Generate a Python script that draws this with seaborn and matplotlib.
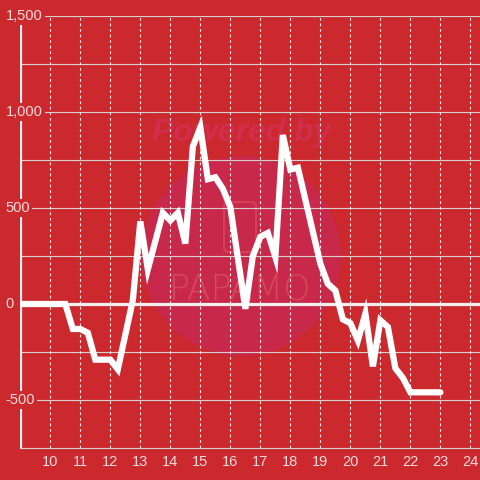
import matplotlib
matplotlib.use('Agg')
import numpy as np
import pandas as pd
import seaborn as sns
import matplotlib.pyplot as plt
from matplotlib.patches import Circle, FancyBboxPatch

# data (hour of day -> value)
hours = [9.0, 10.5, 10.75, 11.0, 11.25, 11.5, 12.0, 12.25, 12.75, 13.0,
         13.25, 13.75, 14.0, 14.25, 14.5, 14.75, 15.0, 15.25, 15.5, 15.75,
         16.0, 16.5, 16.75, 17.0, 17.25, 17.5, 17.75, 18.0, 18.25, 19.0,
         19.25, 19.5, 19.75, 20.0, 20.25, 20.5, 20.75, 21.0, 21.25, 21.5,
         21.75, 22.0, 23.0]
values = [0, 0, -130, -130, -150, -290, -290, -340, 20, 430,
          180, 475, 435, 475, 315, 820, 920, 650, 660, 600,
          505, -25, 250, 350, 370, 245, 880, 700, 710, 210,
          105, 70, -80, -100, -190, -50, -325, -85, -120, -335,
          -385, -460, -460]
x_ticks = list(range(10, 25))
y_ticks = [-500, 0, 500, 1000, 1500]
y_grid = [-500, -250, 250, 500, 750, 1000, 1250, 1500]

bg = '#cc292e'
label_col = '#f4dcdc'

sns.set_style('ticks')
plt.rcParams['font.family'] = ['Liberation Sans', 'DejaVu Sans']

df = pd.DataFrame({'hour': hours, 'value': values})

fig = plt.figure(figsize=(4.8, 4.8), dpi=100, facecolor=bg)
ax = fig.add_axes([20.3 / 480, 32 / 480, 459.7 / 480, 432 / 480])
ax.set_facecolor(bg)
ax.set_axisbelow('line')

# faint watermark
ax.add_patch(Circle((241 / 480, 1 - 256 / 480), 100 / 480, transform=fig.transFigure,
                    facecolor='#c8284a', edgecolor='none', zorder=0.8))
ax.add_patch(FancyBboxPatch((224 / 480, 1 - 252 / 480), 32 / 480, 50 / 480,
                            boxstyle='round,pad=0,rounding_size=0.01', transform=fig.transFigure,
                            facecolor='none', edgecolor='#d4405a', lw=1.5, zorder=0.9))
ax.text(242 / 480, 1 - 133 / 480, 'Powered by', transform=fig.transFigure,
        ha='center', va='center', fontsize=23, fontweight='bold', fontstyle='italic',
        color='#d02e4c', zorder=0.9)
ax.text(240 / 480, 1 - 289 / 480, 'PAPAMO', transform=fig.transFigure,
        ha='center', va='center', fontsize=25, fontweight='light',
        color='#d6485e', zorder=0.9, family='DejaVu Sans')

# grid, zero line and left axis line
ax.hlines(y_grid, 9, 24.32, color='#d6d0d0', lw=0.8, zorder=1.1)
ax.axhline(0, color='#f4f0f0', lw=2.3, zorder=1.2)
ax.axvline(9, color='#f4f0f0', lw=2.3, zorder=1.2)

sns.lineplot(data=df, x='hour', y='value', color='white', lw=4.5, ax=ax,
             zorder=3, solid_joinstyle='miter')

ax.set_xlim(9, 24.32)
ax.set_ylim(-750, 1500)
ax.set_xticks(x_ticks)
ax.set_yticks(y_ticks)
ax.set_yticklabels([])
ax.xaxis.grid(True, color='#f0e8e8', lw=0.8, ls=(0, (2.5, 2.5)))
ax.yaxis.grid(False)
ax.set_xlabel('')
ax.set_ylabel('')

# y labels sit inside the plot edge, covering the axis line
for v in y_ticks:
    ax.text(-14.5 / 459.7, v, f'{v:,}', transform=ax.get_yaxis_transform(),
            ha='left', va='center', fontsize=10.5, color=label_col, zorder=1.5,
            clip_on=False, bbox=dict(facecolor=bg, edgecolor='none', pad=1.5))

ax.tick_params(axis='y', length=0)
ax.tick_params(axis='x', length=0, pad=5, labelcolor=label_col, labelsize=10.5)

for s in ['top', 'right', 'left']:
    ax.spines[s].set_visible(False)
ax.spines['bottom'].set_color('#d6d0d0')
ax.spines['bottom'].set_linewidth(0.8)

fig.savefig('out.png', dpi=100, facecolor=bg)
